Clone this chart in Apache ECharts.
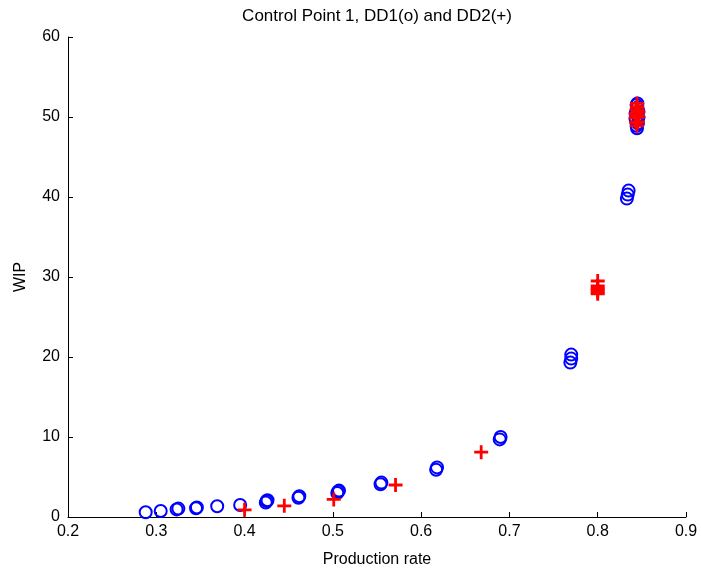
<!DOCTYPE html>
<html><head><meta charset="utf-8">
<script src="https://cdn.jsdelivr.net/npm/echarts@6/dist/echarts.min.js"></script>
<style>html,body{margin:0;padding:0;background:#fff}#c{width:701px;height:573px}</style>
</head><body><div id="c"></div>
<script>
const titleText = 'Control Point 1, DD1(o) and DD2(+)';
const xName = 'Production rate';
const yName = 'WIP';
const xTicks = [0.2,0.3,0.4,0.5,0.6,0.7,0.8,0.9];
const yTicks = [0,10,20,30,40,50,60];
// DD1 (circles)
const dd1X = [0.288,0.305,0.323,0.325,0.345,0.346,0.369,0.395,0.424,0.425,0.426,0.461,0.462,0.505,0.506,0.507,0.554,0.555,0.617,0.618,0.689,0.690,0.769,0.770,0.770,0.833,0.834,0.835,
  0.8445,0.8440,0.8455,0.8430,0.8460,0.8430,0.8460,0.8450,0.8440,0.8450];
const dd1Y = [0.6,0.75,0.95,1.05,1.1,1.2,1.35,1.5,1.8,2.0,2.1,2.4,2.6,3.0,3.2,3.3,4.1,4.3,5.9,6.2,9.7,10.0,19.3,19.8,20.3,39.8,40.3,40.8,
  48.6,48.9,49.2,49.7,49.9,50.5,50.7,51.2,51.5,51.7];
// DD2 (crosses)
const dd2X = [0.400,0.445,0.501,0.571,0.668,
  0.800,0.800,0.800,0.800,0.800,0.800,
  0.8445,0.8435,0.8455,0.8428,0.8462,0.8430,0.8460,0.8440,0.8450,0.8445,0.8445,0.8445];
const dd2Y = [0.9,1.4,2.2,4.0,8.1,
  29.5,28.9,28.6,28.4,28.1,27.9,
  48.9,49.3,49.4,49.9,50.0,50.4,50.6,50.9,50.9,50.2,51.3,51.7];

const zip = (a,b)=>a.map((v,i)=>[v,b[i]]);
const plus = 'path://M0.4,0H0.6V0.4H1V0.6H0.6V1H0.4V0.6H0V0.4H0.4Z';
const font = 'Liberation Sans, Arial, Helvetica, sans-serif';
const chart = echarts.init(document.getElementById('c'), null, {renderer:'canvas'});
chart.setOption({
  animation:false,
  backgroundColor:'#fff',
  title:{text:titleText, left:372, top:3, textAlign:'center',
    textStyle:{fontFamily:font, fontSize:17, fontWeight:'normal', color:'#000'}},
  grid:{left:68, right:15, top:37, bottom:52, containLabel:false},
  xAxis:{type:'value', min:0.2, max:0.9, interval:0.1,
    name:xName, nameLocation:'middle', nameGap:35,
    nameTextStyle:{fontFamily:font, fontSize:16, color:'#000'},
    axisLine:{show:true, onZero:false, lineStyle:{color:'#000', width:1}},
    axisTick:{show:true, inside:true, length:5, lineStyle:{color:'#000'}},
    axisLabel:{fontFamily:font, fontSize:16, color:'#000', margin:7,
      formatter:v=>{const t=xTicks.find(x=>Math.abs(x-v)<1e-6);return t===undefined?'':t.toFixed(1);}},
    splitLine:{show:false}},
  yAxis:{type:'value', min:0, max:60, interval:10,
    name:yName, nameLocation:'middle', nameGap:39, nameRotate:90,
    nameTextStyle:{fontFamily:font, fontSize:16, color:'#000'},
    axisLine:{show:true, onZero:false, lineStyle:{color:'#000', width:1}},
    axisTick:{show:true, inside:true, length:5, lineStyle:{color:'#000'}},
    axisLabel:{fontFamily:font, fontSize:16, color:'#000', margin:8,
      formatter:v=>{const t=yTicks.find(y=>Math.abs(y-v)<1e-6);return t===undefined?'':String(t);}},
    splitLine:{show:false}},
  series:[
    {type:'scatter', name:'DD1', data:zip(dd1X,dd1Y), symbol:'circle', symbolSize:12,
      itemStyle:{color:'rgba(0,0,0,0)', borderColor:'#0000ff', borderWidth:2, opacity:1}},
    {type:'scatter', name:'DD2', data:zip(dd2X,dd2Y), symbol:plus, symbolSize:14,
      itemStyle:{color:'#ff0000', opacity:1}}
  ]
});
</script></body></html>
